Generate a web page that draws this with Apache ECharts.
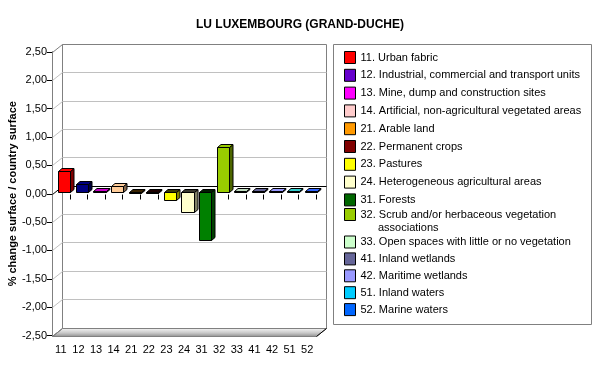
<!DOCTYPE html>
<html><head><meta charset="utf-8">
<script src="https://cdn.jsdelivr.net/npm/echarts@6/dist/echarts.min.js"></script>
<style>html,body{margin:0;padding:0;background:#fff}#c{width:600px;height:390px}</style>
</head><body><div id="c"></div>
<script>
const titleText = 'LU LUXEMBOURG (GRAND-DUCHE)';
const yAxisName = '% change surface / country surface';
const categories = ['11','12','13','14','21','22','23','24','31','32','33','41','42','51','52'];
const legendNames = [
  '11. Urban fabric',
  '12. Industrial, commercial and transport units',
  '13. Mine, dump and construction sites',
  '14. Artificial, non-agricultural vegetated areas',
  '21. Arable land',
  '22. Permanent crops',
  '23. Pastures',
  '24. Heterogeneous agricultural areas',
  '31. Forests',
  '32. Scrub and/or herbaceous vegetation associations',
  '33. Open spaces with little or no vegetation',
  '41. Inland wetlands',
  '42. Maritime wetlands',
  '51. Inland waters',
  '52. Marine waters'
];
const values = [0.36, 0.13, 0.02, 0.10, -0.01, -0.01, -0.15, -0.36, -0.85, 0.79, 0.01, 0.01, 0.01, 0.01, 0.01];
const barColors = ['#FF0000','#000080','#CC00CC','#FFCC99','#FF9900','#800000','#FFFF00','#FFFFCC','#008000','#99CC00','#C0DCC0','#666699','#9999FF','#33CCCC','#3366FF'];
const legendColors = ['#FF0000','#6600CC','#FF00FF','#FFCCCC','#FF9900','#800000','#FFFF00','#FFFFCC','#006600','#99CC00','#CCFFCC','#666699','#9999FF','#00CCFF','#0066FF'];
const yTicks = [-2.5, -2, -1.5, -1, -0.5, 0, 0.5, 1, 1.5, 2, 2.5];

const FONT = '"Liberation Sans", Arial, sans-serif';
const WALL_DX = 10, WALL_DY = -8;
const BAR_OX = 3.5, BAR_OY = -2;
const BAR_DX = 3.5, BAR_DY = -3;

function shade(hex, f) {
  const n = parseInt(hex.slice(1), 16);
  const r = Math.round(((n >> 16) & 255) * f), g = Math.round(((n >> 8) & 255) * f), b = Math.round((n & 255) * f);
  return 'rgb(' + r + ',' + g + ',' + b + ')';
}
const px = v => Math.round(v) + 0.5;

function renderFrame(params, api) {
  const cs = params.coordSys;
  const x0 = px(cs.x), x1 = px(cs.x + cs.width), y0 = px(cs.y), y1 = px(cs.y + cs.height);
  const dx = WALL_DX, dy = WALL_DY;
  const ch = [];
  ch.push({type: 'polygon', shape: {points: [[x0 + dx, y0 + dy], [x1 + dx, y0 + dy], [x1 + dx, y1 + dy], [x0 + dx, y1 + dy]]},
    style: {fill: '#fff', stroke: '#808080', lineWidth: 1}});
  ch.push({type: 'polygon', shape: {points: [[x0, y0], [x0 + dx, y0 + dy], [x0 + dx, y1 + dy], [x0, y1]]},
    style: {fill: '#fff', stroke: '#808080', lineWidth: 1}});
  yTicks.forEach(v => {
    const y = px(api.coord([0, v])[1]);
    const col = v === 0 ? '#000' : '#c0c0c0';
    if (v !== yTicks[0] && v !== yTicks[yTicks.length - 1]) {
      ch.push({type: 'line', shape: {x1: x0 + dx, y1: y + dy, x2: x1 + dx, y2: y + dy}, style: {stroke: col, lineWidth: 1}});
      ch.push({type: 'line', shape: {x1: x0, y1: y, x2: x0 + dx, y2: y + dy}, style: {stroke: col, lineWidth: 1}});
    }
  });
  ch.push({type: 'polygon', shape: {points: [[x0, y1], [x1, y1], [x1 + dx, y1 + dy], [x0 + dx, y1 + dy]]},
    style: {fill: new echarts.graphic.LinearGradient(0, 0, 0, 1, [
      {offset: 0, color: '#f8f8f8'}, {offset: 0.55, color: '#c8c8c8'}, {offset: 1, color: '#8c8c8c'}]),
      stroke: '#808080', lineWidth: 1}});
  ch.push({type: 'line', shape: {x1: x1, y1: y1, x2: x1 + dx, y2: y1 + dy}, style: {stroke: '#000', lineWidth: 1}});
  ch.push({type: 'line', shape: {x1: x0, y1: y1, x2: x0 + dx, y2: y1 + dy}, style: {stroke: '#808080', lineWidth: 1}});
  const band = api.size([1, 0])[0];
  const yz = px(api.coord([0, 0])[1]);
  for (let k = 1; k <= categories.length; k++) {
    const x = px(cs.x + k * band);
    ch.push({type: 'line', shape: {x1: x, y1: yz, x2: x, y2: yz + 5}, style: {stroke: '#000', lineWidth: 1}});
  }
  return {type: 'group', children: ch};
}

function renderBar(params, api) {
  const idx = api.value(0), v = api.value(1);
  const band = api.size([1, 0])[0];
  const w = band * 0.7;
  const pT = api.coord([idx, v]), pZ = api.coord([idx, 0]);
  const xl = px(pT[0] - w / 2 + BAR_OX), xr = px(pT[0] + w / 2 + BAR_OX);
  let yT = px(Math.min(pT[1], pZ[1]) + BAR_OY), yB = px(Math.max(pT[1], pZ[1]) + BAR_OY);
  if (yB - yT < 1) yB = yT + 1;
  const c = api.visual('color');
  const topCol = v >= 0 ? c : shade(c, 0.22);
  const st = {stroke: '#000', lineWidth: 1};
  return {type: 'group', children: [
    {type: 'polygon', shape: {points: [[xr, yT], [xr + BAR_DX, yT + BAR_DY], [xr + BAR_DX, yB + BAR_DY], [xr, yB]]},
      style: Object.assign({fill: shade(c, 0.5)}, st)},
    {type: 'polygon', shape: {points: [[xl, yT], [xr, yT], [xr + BAR_DX, yT + BAR_DY], [xl + BAR_DX, yT + BAR_DY]]},
      style: Object.assign({fill: topCol}, st)},
    {type: 'rect', shape: {x: xl, y: yT, width: xr - xl, height: yB - yT}, style: Object.assign({fill: c}, st)}
  ]};
}

const chart = echarts.init(document.getElementById('c'));
const legendCommon = {
  orient: 'vertical', left: 344, padding: 0, itemWidth: 11, itemHeight: 12, icon: 'rect', selectedMode: false,
  textStyle: {fontSize: 11, lineHeight: 12, color: '#000', fontFamily: FONT},
  itemStyle: {borderColor: '#000', borderWidth: 1}
};
const legItem = i => ({name: legendNames[i], itemStyle: {color: legendColors[i]}});
const wrapIdx = legendNames[9].lastIndexOf(' ');
chart.setOption({
  animation: false,
  backgroundColor: '#fff',
  textStyle: {fontFamily: FONT},
  title: {text: titleText, left: 'center', top: 14, textStyle: {fontSize: 12, fontWeight: 'bold', color: '#000', fontFamily: FONT}},
  grid: {left: 52, top: 52, width: 264, height: 283.5},
  xAxis: {
    type: 'category', data: categories,
    axisLine: {lineStyle: {color: '#000', width: 1}},
    axisTick: {show: true, interval: 0, length: 5, lineStyle: {color: '#000'}},
    axisLabel: {interval: 0, fontSize: 11, color: '#000', margin: 9, fontFamily: FONT},
    splitLine: {show: false}
  },
  yAxis: {
    type: 'value', min: -2.5, max: 2.5, interval: 0.5,
    name: yAxisName, nameLocation: 'middle', nameRotate: 90, nameGap: 32,
    nameTextStyle: {fontSize: 11, fontWeight: 'bold', color: '#000', fontFamily: FONT},
    axisLine: {show: true, lineStyle: {color: '#000', width: 1}},
    axisTick: {show: true, length: 5, lineStyle: {color: '#000'}},
    axisLabel: {fontSize: 11, color: '#000', margin: 5, fontFamily: FONT,
      formatter: v => v.toFixed(2).replace('.', ',')},
    splitLine: {show: false}
  },
  legend: [
    Object.assign({}, legendCommon, {top: 51, itemGap: 4.8, data: [0,1,2,3,4,5,6,7,8].map(legItem)}),
    Object.assign({}, legendCommon, {top: 208, data: [legItem(9)],
      formatter: n => n.slice(0, wrapIdx)}),
    Object.assign({}, legendCommon, {top: 235.5, itemGap: 3.9, data: [10,11,12,13,14].map(legItem)})
  ],
  graphic: [
    {type: 'rect', shape: {x: 333.5, y: 44.5, width: 258, height: 280}, style: {fill: 'none', stroke: '#808080', lineWidth: 1}, z: -1},
    {type: 'text', x: 378, y: 228, style: {text: legendNames[9].slice(wrapIdx + 1), fontSize: 11, fontFamily: FONT, fill: '#000', verticalAlign: 'middle'}}
  ],
  series: [{type: 'custom', name: 'frame', silent: true, z: 1, data: [[0, 0]], encode: {x: 0, y: 1}, renderItem: renderFrame}]
    .concat(categories.map((c, i) => ({
      type: 'custom', name: legendNames[i], z: 3, itemStyle: {color: barColors[i]},
      data: [[i, values[i]]], encode: {x: 0, y: 1}, renderItem: renderBar
    })))
});
</script></body></html>
